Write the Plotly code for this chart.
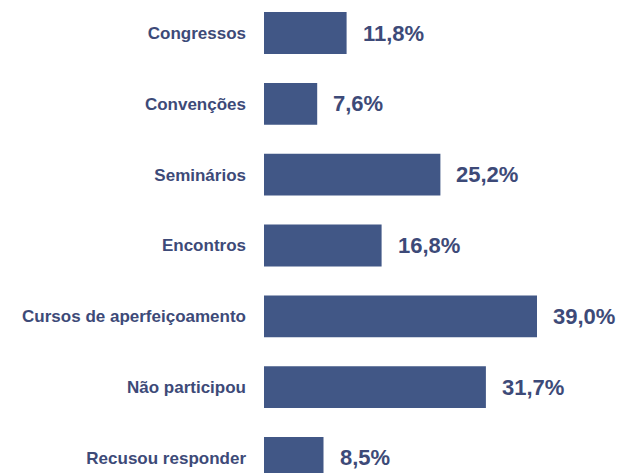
import plotly.graph_objects as go

categories = ["Congressos", "Convenções", "Seminários", "Encontros",
              "Cursos de aperfeiçoamento", "Não participou", "Recusou responder"]
values = [11.8, 7.6, 25.2, 16.8, 39.0, 31.7, 8.5]
labels = ["11,8%", "7,6%", "25,2%", "16,8%", "39,0%", "31,7%", "8,5%"]

bar_color = "#415786"
text_color = "#3d4a78"

fig = go.Figure()
fig.add_trace(go.Bar(
    x=values, y=categories, orientation="h",
    marker=dict(color=bar_color, line=dict(width=0)),
    width=0.59,
    hoverinfo="skip",
))

for cat, v, lab in zip(categories, values, labels):
    fig.add_annotation(
        x=v, y=cat, text=lab, showarrow=False,
        xanchor="left", yanchor="middle", xshift=14,
        font=dict(family="Liberation Sans", size=22, color=text_color, weight="bold"),
    )

fig.update_layout(
    width=622, height=473,
    margin=dict(l=264, r=0, t=0, b=0),
    paper_bgcolor="white", plot_bgcolor="white",
    showlegend=False,
    xaxis=dict(range=[0, 358 / 7.0], visible=False, fixedrange=True),
    yaxis=dict(
        type="category", categoryorder="array", categoryarray=categories,
        range=[6.212, -0.466],
        showgrid=False, zeroline=False, showline=False, ticks="",
        ticklabelstandoff=17, fixedrange=True,
        tickfont=dict(family="Liberation Sans", size=17, color=text_color, weight="bold"),
    ),
)

fig.write_html("out.html", config={"displayModeBar": False},
               post_script="document.body.style.margin='0';")
